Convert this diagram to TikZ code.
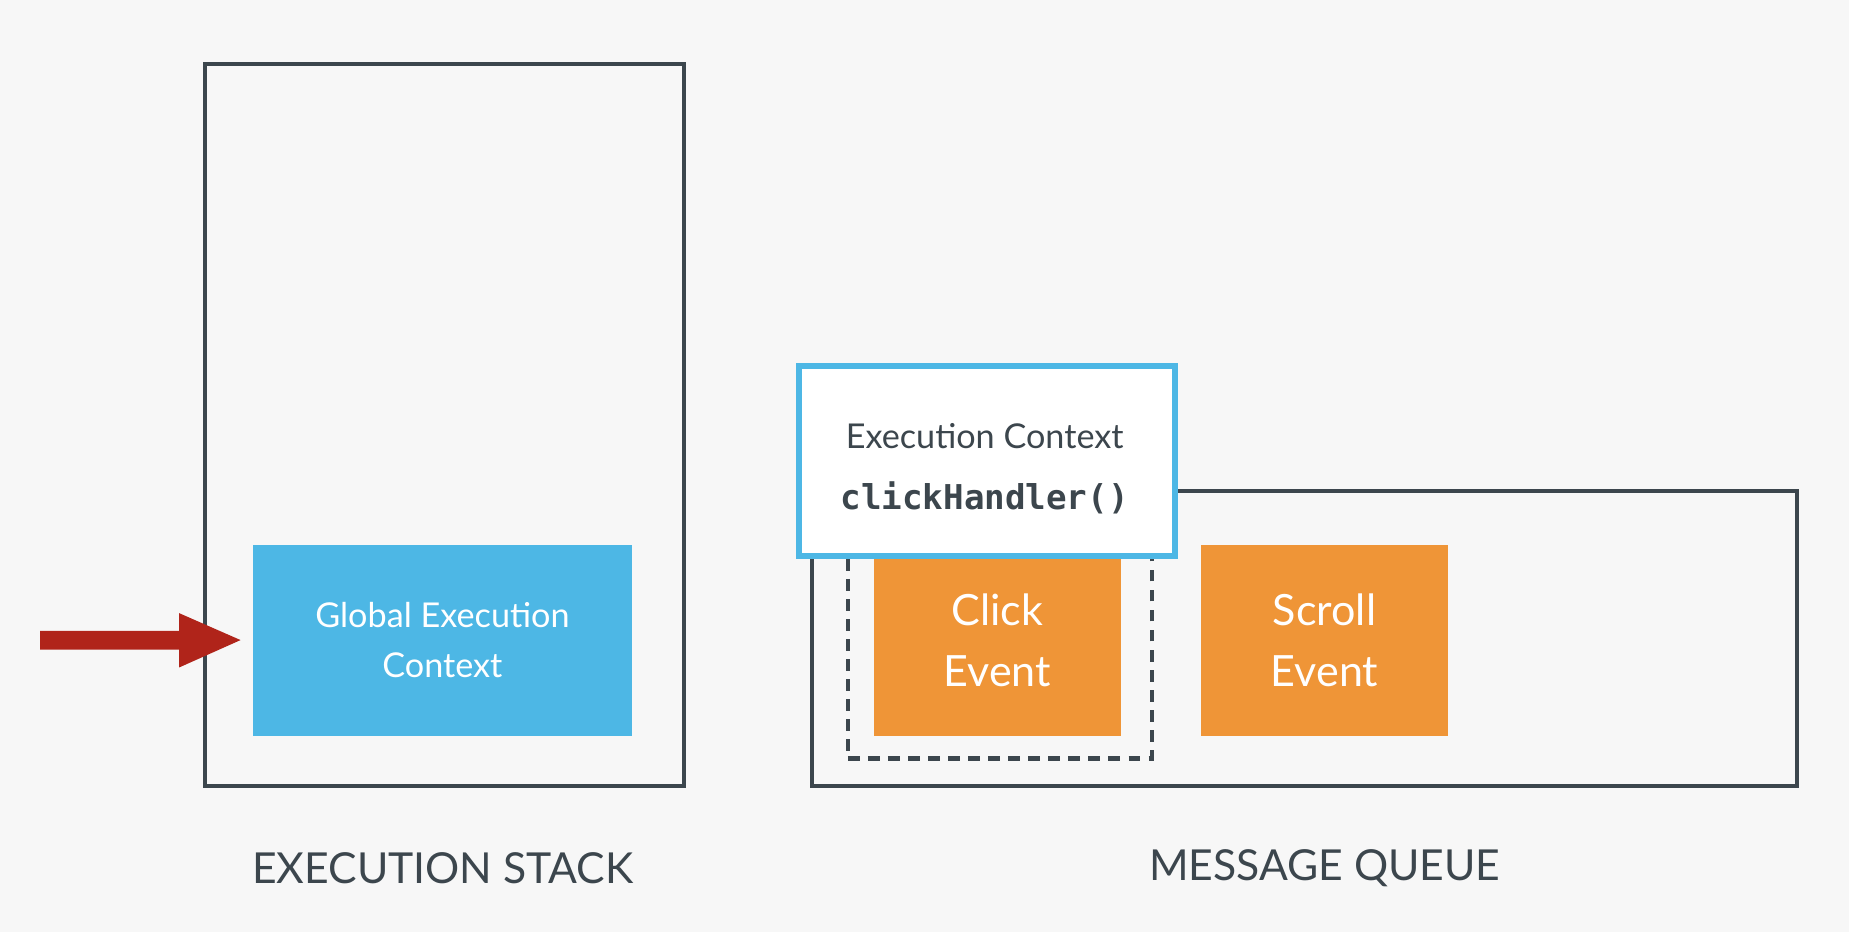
\documentclass[tikz,border=0pt]{standalone}
\usepackage{fontspec}
\setmainfont{Lato}
\setmonofont{DejaVu Sans Mono}
\definecolor{bg}{HTML}{F7F7F7}
\definecolor{dark}{HTML}{3C464D}
\definecolor{sky}{HTML}{4DB7E5}
\definecolor{org}{HTML}{EF9537}
\definecolor{arr}{HTML}{B0241A}
\tikzset{
  frame/.style={draw=dark, line width=3.5pt},
  bluebox/.style={fill=sky, draw=none, text=white, align=center, font=\fontsize{29}{43}\selectfont},
  evbox/.style={fill=org, draw=none, text=white, align=center, font=\fontsize{36.5}{52}\selectfont},
  caption/.style={text=dark, font=\fontsize{36.2}{40}\selectfont},
}
\begin{document}
\begin{tikzpicture}[x=1pt,y=1pt]
\fill[bg] (0,0) rectangle (1568,790);
\useasboundingbox (0,0) rectangle (1568,790);
% execution stack
\node[frame, minimum width=406, minimum height=612, inner sep=0, anchor=south west] (stack) at (172,122) {};
\node[bluebox, minimum width=322, minimum height=162, inner sep=0, anchor=south west] (gec) at (214,166) {Global Execution\\Context};
% arrow
\coordinate (tip) at ([xshift=-10pt]gec.west);
\fill[arr] (34,255) -- (152,255) -- (152,270) -- (tip) -- (152,224) -- (152,239) -- (34,239) -- cycle;
% message queue
\node[frame, minimum width=835, minimum height=250, inner sep=0, anchor=south west] (mq) at (687,122) {};
\node[draw=dark, line width=4pt, dash pattern=on 10pt off 7pt, minimum width=258, minimum height=175, inner sep=0, anchor=south west] (dash) at (717,145) {};
\node[evbox, minimum width=209, minimum height=162, inner sep=0, anchor=south west] (click) at (741,166) {Click\\Event};
\node[evbox, minimum width=210, minimum height=162, inner sep=0, anchor=south west] (scroll) at (1018,166) {Scroll\\Event};
% execution context popup
\node[fill=white, draw=sky, line width=5pt, minimum width=319, minimum height=161, inner sep=0, anchor=south west] (ec) at (675,316) {};
\node[text=dark, font=\fontsize{29}{30}\selectfont] (ect) at (835,420) {Execution Context};
\node[text=dark, font=\fontsize{29}{30}\selectfont\ttfamily\bfseries] (ch) at (835,368) {clickHandler()};
% captions
\node[caption] (l1) at (375.5,54) {EXECUTION STACK};
\node[caption] (l2) at (1123.5,54) {MESSAGE QUEUE};
\end{tikzpicture}
\end{document}
